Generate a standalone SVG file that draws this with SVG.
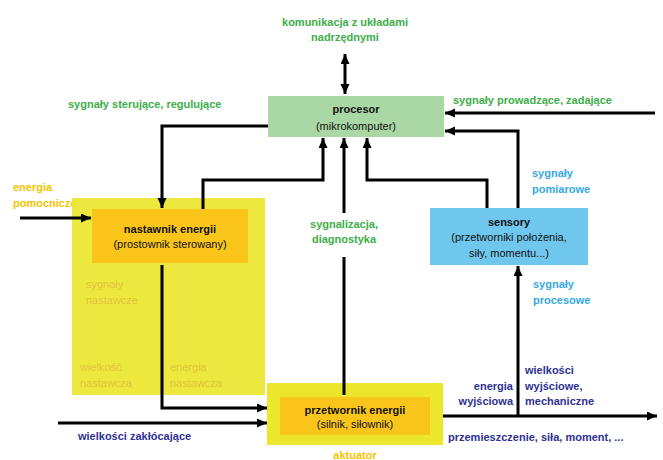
<svg xmlns="http://www.w3.org/2000/svg" width="663" height="460" viewBox="0 0 663 460">
<defs>
<marker id="ah" markerUnits="userSpaceOnUse" markerWidth="11" markerHeight="10" refX="10" refY="4.5" orient="auto-start-reverse">
<path d="M0,0 L10,4.5 L0,9 z" fill="#000"/>
</marker>
<style>
text{font-family:"Liberation Sans",Arial,sans-serif;font-size:11px}
.b{font-weight:bold}
.g{fill:#3dae49;font-weight:bold}
.lb{fill:#36a9e1;font-weight:bold}
.db{fill:#2e3192;font-weight:bold}
.yo{fill:#f5c400;font-weight:bold}
.fa{fill:#e2c33e}
.k{fill:#111}
.c{text-anchor:middle}
.e{text-anchor:end}
.ln{fill:none;stroke:#000;stroke-width:3}
.arr{marker-end:url(#ah)}
</style>
</defs>
<rect width="663" height="460" fill="#fff"/>

<g id="komunikacja">
<text class="g c" x="345" y="26">komunikacja z układami</text>
<text class="g c" x="345" y="41">nadrzędnymi</text>
</g>

<g id="labels-top">
<text class="g" x="68" y="108">sygnały sterujące, regulujące</text>
<text class="g" x="453" y="104">sygnały prowadzące, zadające</text>
</g>

<g id="procesor">
<rect x="268" y="96" width="176" height="41" fill="#a9d8a5"/>
<text class="b c k" x="356" y="113">procesor</text>
<text class="c k" x="356" y="130">(mikrokomputer)</text>
</g>

<g id="energia-pomocnicza">
<text class="yo" x="13" y="191">energia</text>
<text class="yo" x="13" y="207">pomocnicze</text>
</g>

<g id="nastawnik">
<rect x="72" y="198" width="193" height="197" fill="#ece62c" fill-opacity="0.92"/>
<rect x="92" y="209" width="156" height="54" fill="#f9c51a"/>
<text class="b c k" x="170" y="233">nastawnik energii</text>
<text class="c k" x="170" y="248">(prostownik sterowany)</text>
<text class="fa" x="86" y="288">sygnały</text>
<text class="fa" x="86" y="304">nastawcze</text>
<text class="fa" x="80" y="371">wielkość</text>
<text class="fa" x="80" y="387">nastawcza</text>
<text class="fa" x="170" y="371">energia</text>
<text class="fa" x="170" y="387">nastawcza</text>
</g>

<g id="sygnalizacja">
<text class="g c" x="344" y="228">sygnalizacja,</text>
<text class="g c" x="344" y="243">diagnostyka</text>
</g>

<g id="sensory">
<rect x="430" y="208" width="158" height="57" fill="#6fc7ee"/>
<text class="b c k" x="509" y="226">sensory</text>
<text class="c k" x="509" y="241">(przetworniki położenia,</text>
<text class="c k" x="509" y="257">siły, momentu...)</text>
<text class="lb" x="532" y="177">sygnały</text>
<text class="lb" x="532" y="193">pomiarowe</text>
<text class="lb" x="533" y="288">sygnały</text>
<text class="lb" x="533" y="304">procesowe</text>
</g>

<g id="aktuator">
<rect x="267" y="383" width="176" height="62" fill="#ece62c"/>
<rect x="280" y="397" width="150" height="38" fill="#f9c51a"/>
<text class="b c k" x="355" y="414">przetwornik energii</text>
<text class="c k" x="355" y="428">(silnik, siłownik)</text>
<text class="yo c" x="355" y="459">aktuator</text>
</g>

<g id="wyjscie">
<text class="db e" x="513" y="390">energia</text>
<text class="db e" x="513" y="405">wyjściowa</text>
<text class="db" x="525" y="374">wielkości</text>
<text class="db" x="525" y="390">wyjściowe,</text>
<text class="db" x="525" y="405">mechaniczne</text>
<text class="db" x="448" y="441">przemieszczenie, siła, moment, ...</text>
<text class="db" x="78" y="440">wielkości zakłócające</text>
</g>

<g id="connectors">
<path class="ln" d="M345,54 V94" marker-start="url(#ah)" marker-end="url(#ah)"/>
<path class="ln arr" d="M655,113 H445"/>
<path class="ln arr" d="M518,208 V131 H445"/>
<path class="ln arr" d="M268,126 H162 V208"/>
<path class="ln arr" d="M203,209 V180 H323 V138"/>
<path class="ln" d="M344,395 V257"/>
<path class="ln arr" d="M344,213 V138"/>
<path class="ln arr" d="M487,208 V180 H367 V138"/>
<path class="ln arr" d="M20,218 H91"/>
<path class="ln arr" d="M162,265 V408 H267"/>
<path class="ln arr" d="M58,423 H267"/>
<path class="ln arr" d="M443,416 H657"/>
<path class="ln arr" d="M518,416 V266"/>
</g>
</svg>
